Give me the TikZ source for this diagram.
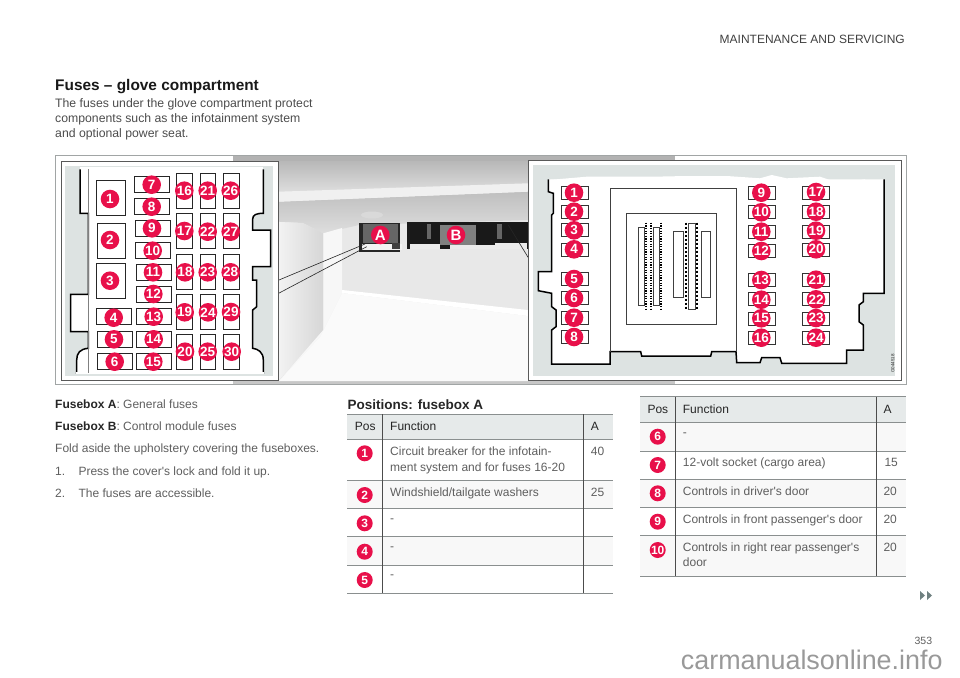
\documentclass[tikz,border=0pt]{standalone}
\usepackage{fontspec}
\setmainfont{Liberation Sans}
\definecolor{tagred}{HTML}{E8104A}
\definecolor{bodygrey}{HTML}{5E5E5E}
\definecolor{panelgrey}{HTML}{DDE3E2}
\definecolor{headfill}{HTML}{E6EAEA}
\definecolor{rowfill}{HTML}{F8F8F8}
\definecolor{rulegrey}{HTML}{8A8F8F}
\definecolor{nextgrey}{HTML}{6F8080}
\tikzset{
  tag/.style={circle,fill=tagred,text=white,inner sep=0pt,minimum size=18.6pt,font=\fontsize{13.5}{13.5}\selectfont\bfseries},
  rowtag/.style={tag,minimum size=16pt,font=\fontsize{12}{12}\selectfont\bfseries},
  slot/.style={draw=black!85,fill=white,line width=0.9pt,inner sep=0pt},
  slotbig/.style={slot,minimum width=28.6pt,minimum height=35pt},
  slotw/.style={slot,minimum width=35pt,minimum height=16pt},
  sloth/.style={slot,minimum width=15.7pt,minimum height=35.2pt},
  slotr/.style={slot,draw=black!80,line width=0.7pt,minimum width=26.7pt,minimum height=13pt},
  txt/.style={inner sep=0pt,anchor=base west,text=bodygrey,font=\fontsize{12}{12}\selectfont},
  intro/.style={txt,text=black!70,font=\fontsize{12.25}{12.25}\selectfont},
  dark/.style={txt,text=black!85},
  rulex/.style={draw=rulegrey,line width=0.9pt},
  ruley/.style={draw=black!70,line width=0.7pt},
  wall/.style={draw=black,line width=1.5pt},
  inner/.style={draw=black!75,line width=0.6pt},
}
\begin{document}
\begin{tikzpicture}[x=1pt,y=-1pt]
        \useasboundingbox (0,0) rectangle (960,677);

        % page texts
        \node[txt,anchor=base east,text=black!75,font=\fontsize{12}{12}\selectfont] (header) at (905,44) {MAINTENANCE AND SERVICING};
        \node[dark,text=black!90,font=\fontsize{15.4}{15.4}\selectfont\bfseries] (title) at (55,90) {Fuses – glove compartment};
        \node[intro] (introa) at (55,107.3) {The fuses under the glove compartment protect};
        \node[intro] (introb) at (55,122.3) {components such as the infotainment system};
        \node[intro] (introc) at (55,137.5) {and optional power seat.};

        % frame and photo
        \draw[draw=rulegrey!80,line width=0.8pt] (55,155.5) rectangle (906,384.5);
        \fill[black!30] (233,156) rectangle (675,161);
        \fill[black!22] (233,381) rectangle (675,384);
        \fill[black!9] (279,161) rectangle (528,381);
        \shade[top color=black!28,bottom color=black!13] (279,161) rectangle (528,192);
        \shade[top color=black!25,bottom color=black!13] (279,201.7) -- (528,191.7) -- (528,220) -- (359,225) -- (323.3,233.3) -- (303,223) -- (279,221.7) -- cycle;
        \fill[black!6] (279,191.7) -- (528,183.3) -- (528,191.7) -- (279,201.7) -- cycle;
        \shade[left color=black!5,right color=black!16] (279,222) -- (303,223) -- (323.3,233.3) -- (323.3,330) -- (279,380) -- cycle;
        \fill[black!3] (323.3,233.3) -- (342,228) -- (342,293) -- (320,337) -- (279,381) -- (323.3,330) -- cycle;
        \fill[black!2] (342,293) -- (528,316) -- (528,381) -- (279,381) -- (320,337) -- cycle;
        \fill[white] (342,290) -- (528,310) -- (528,316) -- (342,293) -- cycle;

        % boxes in the glove compartment
        \fill[black!15] (372,215) ellipse (11 and 3.5);
        \fill[black!85] (359.3,222.7) rectangle (400,251.7);
        \fill[black!60] (363,224) rectangle (398,243);
        \fill[black!5] (362,244) rectangle (402,250);
        \fill[black!75] (392,243) rectangle (400,249);
        \fill[black!90] (407.3,221.7) rectangle (528,249);
        \fill[black!50] (440,225) rectangle (476,245);
        \fill[black!60] (427,224) rectangle (431,239);
        \fill[black!60] (497,224) rectangle (502,239);
        \fill[black!8] (410,243.5) rectangle (440,249);
        \fill[black!8] (450,245) rectangle (495,249);
        \fill[black!8] (495,243) rectangle (527,249);

        % callout lines
        \coordinate (calla) at (277.3,280.7);
        \coordinate (callb) at (277.3,294);
        \coordinate (boxa) at (365,244);
        \coordinate (boxb) at (366.7,246.7);
        \coordinate (callc) at (529.3,259.3);
        \coordinate (boxc) at (508.3,225);
        \draw[inner,draw=black!85] (calla) -- (boxa);
        \draw[inner,draw=black!85] (callb) -- (boxb);
        \draw[inner,draw=black!85] (callc) -- (boxc);

        \node[tag] (taga) at (380.3,235) {\fontsize{15}{15}\selectfont A};
        \node[tag] (tagb) at (456,235) {\fontsize{15}{15}\selectfont B};

        % left panel
        \draw[fill=white,draw=black!65,line width=0.7pt] (61,161.7) rectangle (278.3,380.7);
        \fill[panelgrey] (65.3,166) rectangle (273.3,376);
        \fill[white] (80,166.5) rectangle (263.3,170);
        \draw[wall,fill=white] (80,169.3) -- (80,213.3) -- (88.3,213.3) -- (88.3,294.3) -- (70.7,294.3) -- (70.7,331.7) -- (88.3,331.7) -- (88.3,348.3) .. controls (80,349) and (76.7,353) .. (76.7,360) -- (76.7,373)
        -- (263.3,373) -- (263.3,360) .. controls (263.3,352) and (258,349) .. (252.7,348.3) -- (252.7,310) -- (256.7,306.7) -- (256.7,280) -- (252.7,280) -- (252.7,266.7) -- (270.7,266.7) -- (270.7,230) -- (252.7,230) -- (252.7,219) .. controls (252.7,215) and (256,213.3) .. (263.3,213.3) -- (263.3,169.3);
        \draw[draw=white,line width=2pt] (75.7,373) -- (264.3,373);
        \draw[draw=black!50,line width=0.5pt] (88.7,169.3) -- (88.7,373);

        \node[slotbig] (sa1) at (111,198) {}; \node[tag] (a1) at (110,199) {1};
        \node[slotbig] (sa2) at (111.3,240.5) {}; \node[tag] (a2) at (110,240) {2};
        \node[slotbig] (sa3) at (111,280.8) {}; \node[tag] (a3) at (110,280.7) {3};
        \node[slotw] (sa4) at (114.2,316.7) {}; \node[tag] (a4) at (113.7,317.7) {4};
        \node[slotw] (sa5) at (114.8,339) {}; \node[tag] (a5) at (114,339.3) {5};
        \node[slotw] (sa6) at (114.8,361.7) {}; \node[tag] (a6) at (114.7,361.7) {6};
        \node[slotw] (sa7) at (151.8,184) {}; \node[tag] (a7) at (151.7,184.7) {7};
        \node[slotw] (sa8) at (152,206.2) {}; \node[tag] (a8) at (151.7,206.7) {8};
        \node[slotw] (sa9) at (152.5,228) {}; \node[tag] (a9) at (152,228.3) {9};
        \node[slotw] (sa10) at (153.2,250.3) {}; \node[tag] (a10) at (152.7,250.7) {10};
        \node[slotw] (sa11) at (153.7,272.2) {}; \node[tag] (a11) at (153,272.3) {11};
        \node[slotw] (sa12) at (154.2,294.3) {}; \node[tag] (a12) at (153.3,294) {12};
        \node[slotw] (sa13) at (154.2,316.7) {}; \node[tag] (a13) at (153.7,316.7) {13};
        \node[slotw] (sa14) at (154.2,339) {}; \node[tag] (a14) at (153.7,339.3) {14};
        \node[slotw] (sa15) at (153.5,361.7) {}; \node[tag] (a15) at (153.3,361.7) {15};
        \node[sloth] (sa16) at (184.5,191) {}; \node[tag] (a16) at (184.3,190.7) {16};
        \node[sloth] (sa17) at (184.5,231.2) {}; \node[tag] (a17) at (184.3,231) {17};
        \node[sloth] (sa18) at (184.5,271.8) {}; \node[tag] (a18) at (185,272.3) {18};
        \node[sloth] (sa19) at (184.5,311.8) {}; \node[tag] (a19) at (184.7,312.3) {19};
        \node[sloth] (sa20) at (184.5,352.2) {}; \node[tag] (a20) at (185,351.7) {20};
        \node[sloth] (sa21) at (207.8,191) {}; \node[tag] (a21) at (207.7,190.7) {21};
        \node[sloth] (sa22) at (207.8,231.2) {}; \node[tag] (a22) at (207.7,231.7) {22};
        \node[sloth] (sa23) at (207.8,271.8) {}; \node[tag] (a23) at (207.7,272.3) {23};
        \node[sloth] (sa24) at (207.8,311.8) {}; \node[tag] (a24) at (208,312.3) {24};
        \node[sloth] (sa25) at (207.8,352.2) {}; \node[tag] (a25) at (207.7,351.7) {25};
        \node[sloth] (sa26) at (231.2,191) {}; \node[tag] (a26) at (230.7,190.7) {26};
        \node[sloth] (sa27) at (231.2,231.2) {}; \node[tag] (a27) at (230.7,231.7) {27};
        \node[sloth] (sa28) at (231.2,271.8) {}; \node[tag] (a28) at (230.7,272.3) {28};
        \node[sloth] (sa29) at (231.2,311.8) {}; \node[tag] (a29) at (231,312) {29};
        \node[sloth] (sa30) at (231.2,352.2) {}; \node[tag] (a30) at (231.7,351.7) {30};

        % right panel
        \draw[fill=white,draw=black!65,line width=0.7pt] (528.3,160.7) rectangle (901.7,380.7);
        \fill[panelgrey] (533.3,165) rectangle (895,376);
        \fill[white] (548.3,180) -- (586.7,176.7) -- (653.3,176.7) -- (686.7,176) -- (726.7,176) -- (760,178.3) -- (771.7,175) -- (786.7,178.3) -- (820,176.7) -- (840,183.3) -- (865,179.3) -- (866.7,183.3) -- (884,179.3) -- (884,190) -- (548.3,190) -- cycle;
        \draw[wall,fill=white] (548.3,179.3) -- (548.3,191.7) -- (553.3,193.3) -- (553.3,213.3) -- (551.7,215) -- (551.7,271.7) -- (538.3,271.7) -- (538.3,290.7) -- (551.7,293.3) -- (551.7,306.7) -- (556,310) -- (556,326.7) -- (551.7,330) -- (551.7,364) -- (610,364) -- (610,351.7) -- (640.7,351.7) -- (641.7,356) -- (710.7,356) -- (711.7,351.7) -- (736,351.7) -- (736.7,362.7) -- (760,362.7) -- (761.7,357.7) -- (780,357.7) -- (781.7,363.3) -- (846.7,363.3) -- (846.7,350) -- (863.3,350) -- (863.3,325) -- (859,321.7) -- (859,305) -- (863.3,301.7) -- (863.3,293.3) -- (884,293.3) -- (884,179.3);
        \draw[inner] (610,351.7) -- (610,188.3) -- (736,188.3) -- (736,351.7);
        \draw[inner] (626.7,213.3) rectangle (716,324.7);
        \draw[inner] (638.7,227.7) rectangle (644.3,305.7);
        \draw[inner] (653.7,227.7) rectangle (659.3,305.7);
        \draw[inner] (673.7,231) rectangle (683,297.3);
        \draw[inner] (688.3,223.7) rectangle (695.3,309.3);
        \draw[inner] (701.3,231) rectangle (710.3,297.3);
        \draw[black,line width=1.6pt,dash pattern=on 1.3pt off 1.3pt] (646,222.7) -- (646,310);
        \draw[black,line width=1.6pt,dash pattern=on 1.3pt off 1.3pt] (651,222.7) -- (651,310);
        \draw[black,line width=1.6pt,dash pattern=on 1.3pt off 1.3pt] (661,222.7) -- (661,310);
        \draw[black,line width=1.6pt,dash pattern=on 2.5pt off 1.5pt] (685.7,222.7) -- (685.7,309.3);
        \draw[black,line width=1.6pt,dash pattern=on 2.5pt off 1.5pt] (696.7,222.7) -- (696.7,309.3);

        \node[slotr] (sb1) at (574.7,192.8) {}; \node[tag] (b1) at (574,192.7) {1};
        \node[slotr] (sb2) at (574.7,211.5) {}; \node[tag] (b2) at (574,211.7) {2};
        \node[slotr] (sb3) at (574.7,230.2) {}; \node[tag] (b3) at (574,230.3) {3};
        \node[slotr] (sb4) at (574.7,249.5) {}; \node[tag] (b4) at (574,249.3) {4};
        \node[slotr] (sb5) at (574.7,278.8) {}; \node[tag] (b5) at (574,279) {5};
        \node[slotr] (sb6) at (574.7,298.2) {}; \node[tag] (b6) at (574,298) {6};
        \node[slotr] (sb7) at (574.7,317.5) {}; \node[tag] (b7) at (574,317.7) {7};
        \node[slotr] (sb8) at (574.7,337.2) {}; \node[tag] (b8) at (574,337) {8};
        \node[slotr] (sb9) at (761.7,192.7) {}; \node[tag] (b9) at (761.3,192.7) {9};
        \node[slotr] (sb10) at (761.7,212) {}; \node[tag] (b10) at (761.3,212.3) {10};
        \node[slotr] (sb11) at (761.7,231.7) {}; \node[tag] (b11) at (761.3,231.7) {11};
        \node[slotr] (sb12) at (761.7,251) {}; \node[tag] (b12) at (761.3,251) {12};
        \node[slotr] (sb13) at (761.7,280) {}; \node[tag] (b13) at (761.3,280) {13};
        \node[slotr] (sb14) at (761.7,299.3) {}; \node[tag] (b14) at (761.3,299.7) {14};
        \node[slotr] (sb15) at (761.7,319) {}; \node[tag] (b15) at (761.3,318.3) {15};
        \node[slotr] (sb16) at (761.7,337.7) {}; \node[tag] (b16) at (761.3,337.7) {16};
        \node[slotr] (sb17) at (816,192.7) {}; \node[tag] (b17) at (816,192) {17};
        \node[slotr] (sb18) at (816,212) {}; \node[tag] (b18) at (816,211.7) {18};
        \node[slotr] (sb19) at (816,231.7) {}; \node[tag] (b19) at (816,230.7) {19};
        \node[slotr] (sb20) at (816,250) {}; \node[tag] (b20) at (816,249.3) {20};
        \node[slotr] (sb21) at (816,280) {}; \node[tag] (b21) at (816,279.7) {21};
        \node[slotr] (sb22) at (816,299.3) {}; \node[tag] (b22) at (816,299.3) {22};
        \node[slotr] (sb23) at (816,319) {}; \node[tag] (b23) at (816,318) {23};
        \node[slotr] (sb24) at (816,337.7) {}; \node[tag] (b24) at (816,337.7) {24};
        \node[txt,text=black!85,anchor=center,rotate=90,font=\fontsize{4.5}{4.5}\selectfont] (code) at (892.7,363.3) {G044518};

        % notes under the photo
        \node[txt] (notea) at (55,408) {\textcolor{black!85}{\bfseries Fusebox A}: General fuses};
        \node[txt] (noteb) at (55,430.3) {\textcolor{black!85}{\bfseries Fusebox B}: Control module fuses};
        \node[txt] (notec) at (55,452.7) {Fold aside the upholstery covering the fuseboxes.};
        \node[txt] (numa) at (55,475.3) {1.};
        \node[txt] (stepa) at (78.3,475.3) {Press the cover\textquotesingle s lock and fold it up.};
        \node[txt] (numb) at (55,497.3) {2.};
        \node[txt] (stepb) at (78.3,497.3) {The fuses are accessible.};

        % table A
        \node[dark,font=\fontsize{13.5}{13.5}\selectfont\bfseries] (tablea) at (347.5,409.3) {Positions: fusebox A};
        \fill[headfill] (347.3,414) rectangle (612.7,439.3);
        \fill[rowfill] (347.3,480) rectangle (612.7,508.3);
        \fill[rowfill] (347.3,536.7) rectangle (612.7,565);
        \draw[rulex] (347.3,414) -- (612.7,414);
        \draw[rulex] (347.3,439.3) -- (612.7,439.3);
        \draw[rulex] (347.3,480) -- (612.7,480);
        \draw[rulex] (347.3,508.3) -- (612.7,508.3);
        \draw[rulex] (347.3,536.7) -- (612.7,536.7);
        \draw[rulex] (347.3,565) -- (612.7,565);
        \draw[rulex] (347.3,593.3) -- (612.7,593.3);
        \draw[ruley] (382.7,414) -- (382.7,593.3);
        \draw[ruley] (583.3,414) -- (583.3,593.3);
        \node[dark] (posa) at (354.7,430) {Pos};
        \node[dark] (funa) at (390,430) {Function};
        \node[dark] (ampa) at (590.7,430) {A};
        \node[rowtag] (ra1) at (364.7,453.3) {1};
        \node[txt] (fa1) at (390,455.7) {Circuit breaker for the infotain-};
        \node[txt] (fa1b) at (390,471) {ment system and for fuses 16-20};
        \node[txt] (va1) at (590.7,455.7) {40};
        \node[rowtag] (ra2) at (364.7,495) {2};
        \node[txt] (fa2) at (390,496) {Windshield/tailgate washers};
        \node[txt] (va2) at (590.7,496) {25};
        \node[rowtag] (ra3) at (364.7,523.3) {3};
        \node[txt] (fa3) at (390,522.7) {-};
        \node[rowtag] (ra4) at (364.7,551.7) {4};
        \node[txt] (fa4) at (390,550.3) {-};
        \node[rowtag] (ra5) at (364.7,580) {5};
        \node[txt] (fa5) at (390,578.7) {-};

        % table B
        \fill[headfill] (640,396.7) rectangle (905.7,422.3);
        \fill[rowfill] (640,422.3) rectangle (905.7,451);
        \fill[rowfill] (640,479.3) rectangle (905.7,507.3);
        \fill[rowfill] (640,535.7) rectangle (905.7,576);
        \draw[rulex] (640,396.7) -- (905.7,396.7);
        \draw[rulex] (640,422.3) -- (905.7,422.3);
        \draw[rulex] (640,451) -- (905.7,451);
        \draw[rulex] (640,479.3) -- (905.7,479.3);
        \draw[rulex] (640,507.3) -- (905.7,507.3);
        \draw[rulex] (640,535.7) -- (905.7,535.7);
        \draw[rulex] (640,576) -- (905.7,576);
        \draw[ruley] (675.3,396.7) -- (675.3,576);
        \draw[ruley] (876.3,396.7) -- (876.3,576);
        \node[dark] (posb) at (647.3,413.3) {Pos};
        \node[dark] (funb) at (682.7,413.3) {Function};
        \node[dark] (ampb) at (883.3,413.3) {A};
        \node[rowtag] (rb6) at (657.7,436.7) {6};
        \node[txt] (fb6) at (682.7,436) {-};
        \node[rowtag] (rb7) at (657.7,465) {7};
        \node[txt] (fb7) at (682.7,466.7) {12-volt socket (cargo area)};
        \node[txt] (vb7) at (884.3,466.7) {15};
        \node[rowtag] (rb8) at (657.7,493.3) {8};
        \node[txt] (fb8) at (682.7,495) {Controls in driver\textquotesingle s door};
        \node[txt] (vb8) at (883.3,495) {20};
        \node[rowtag] (rb9) at (657.7,521.7) {9};
        \node[txt] (fb9) at (682.7,523.3) {Controls in front passenger\textquotesingle s door};
        \node[txt] (vb9) at (883.3,523.3) {20};
        \node[rowtag] (rb10) at (657.7,550) {10};
        \node[txt] (fb10) at (682.7,551.7) {Controls in right rear passenger\textquotesingle s};
        \node[txt] (fb10b) at (682.7,566.7) {door};
        \node[txt] (vb10) at (883.3,551.7) {20};

        % page foot
        \fill[nextgrey] (920,591) -- (925,595.5) -- (920,600) -- cycle;
        \fill[nextgrey] (927,591) -- (932,595.5) -- (927,600) -- cycle;
        \node[txt,anchor=base east,font=\fontsize{10.5}{10.5}\selectfont] (page) at (932.3,644.5) {353};
        \node[txt,text=black!40,font=\fontsize{26.9}{26.9}\selectfont] (mark) at (680.7,669) {carmanualsonline.info};
    \end{tikzpicture}
\end{document}
